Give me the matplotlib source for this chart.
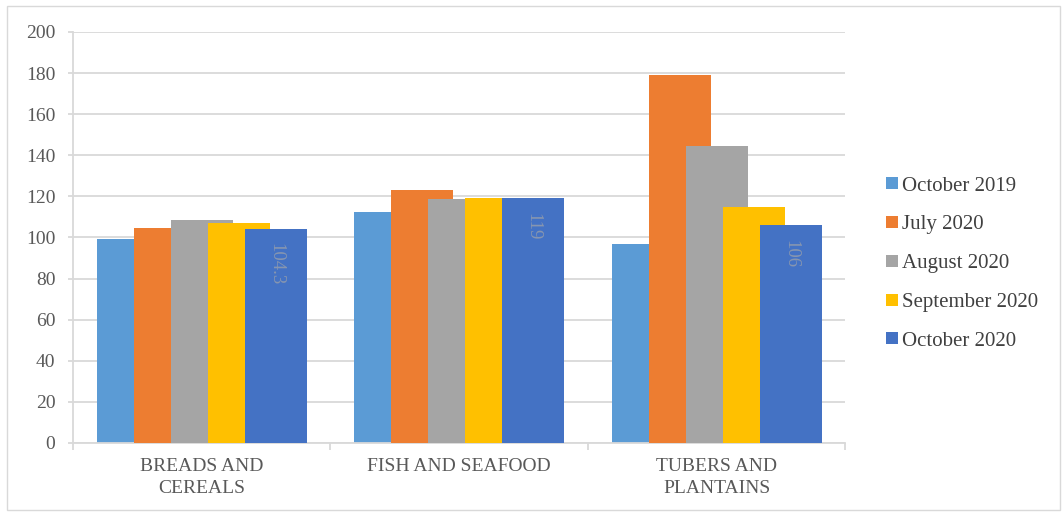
import numpy as np
import matplotlib.pyplot as plt
from matplotlib.patches import Rectangle

# values
categories = ['BREADS AND\nCEREALS', 'FISH AND SEAFOOD', 'TUBERS AND\nPLANTAINS']
series = ['October 2019', 'July 2020', 'August 2020', 'September 2020', 'October 2020']
oct_2019 = [99.3, 112.2, 97.0]
jul_2020 = [104.5, 123.0, 179.2]
aug_2020 = [108.5, 118.7, 144.5]
sep_2020 = [106.9, 119.4, 114.8]
oct_2020 = [104.3, 119.0, 106.0]
oct_2020_labels = ['104.3', '119', '106']
colors = ['#5B9BD5', '#ED7D31', '#A5A5A5', '#FFC000', '#4472C4']

plt.rcParams['font.family'] = ['Liberation Serif', 'DejaVu Serif']

fig = plt.figure(figsize=(10.64, 5.12), dpi=100)
ax = fig.add_axes([0.0686, 0.1348, 0.7260, 0.8027])

x = np.arange(len(categories))
step = 0.1437
width = 0.241
start = -0.408 + width / 2
all_series = [oct_2019, jul_2020, aug_2020, sep_2020, oct_2020]
for i, (name, vals) in enumerate(zip(series, all_series)):
    ax.bar(x + start + i * step, vals, width=width, color=colors[i],
           label=name, zorder=2 + i)

# data labels on the last series, rotated, inside the top of the bar
for xi, v, lab in zip(x + start + 4 * step, oct_2020, oct_2020_labels):
    ax.annotate(lab, (xi, v), xytext=(0, -10.5), textcoords='offset points',
                ha='center', va='top', rotation=-90, fontsize=13.5,
                color='#8796B0', zorder=10)

ax.set_xlim(-0.5, 2.5)
ax.set_ylim(0, 200)
ax.set_yticks(np.arange(0, 201, 20))
ax.yaxis.grid(True, color='#D9D9D9', linewidth=1.3, zorder=0)
ax.set_axisbelow(True)

ax.set_xticks(x)
ax.set_xticklabels(categories, fontsize=14, color='#595959', linespacing=1.38)
ax.set_xticks([-0.5, 0.5, 1.5, 2.5], minor=True)
ax.tick_params(axis='x', which='major', length=0, pad=11)
ax.tick_params(axis='x', which='minor', length=5, color='#D9D9D9', width=1.3)
ax.tick_params(axis='y', length=3.6, color='#D9D9D9', width=1.3,
               labelsize=14, labelcolor='#595959', pad=9)

for side in ['top', 'right']:
    ax.spines[side].set_visible(False)
for side in ['left', 'bottom']:
    ax.spines[side].set_color('#D9D9D9')
    ax.spines[side].set_linewidth(1.3)

leg = fig.legend(loc='center left', bbox_to_anchor=(0.815, 0.485),
                 frameon=False, fontsize=15, handlelength=0.6, handleheight=0.5,
                 handletextpad=0.15, labelspacing=0.95, labelcolor='#404040')

# light border around the whole chart
fig.patches.append(Rectangle((0.007, 0.004), 0.989, 0.985, transform=fig.transFigure,
                             fill=False, edgecolor='#D9D9D9', linewidth=1.0))

fig.savefig('out.png', dpi=100)
